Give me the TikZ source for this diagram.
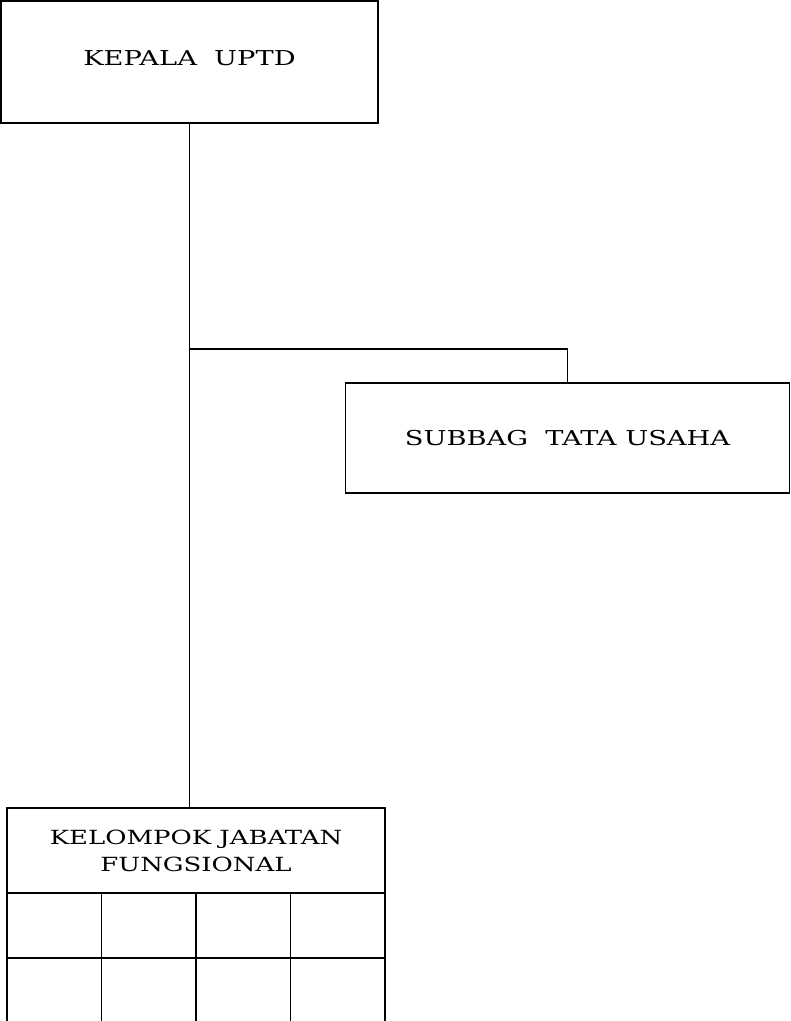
\documentclass[tikz,border=0pt]{standalone}
\usepackage{fontspec}
\setmainfont{DejaVu Serif}[FakeStretch=1.33]
\tikzset{
  line/.style={line width=1.9pt, draw=black},
  box/.style={line, rectangle, inner sep=0pt, align=center, font=\fontsize{20.5}{27.3}\selectfont},
  cell/.style={line, rectangle, inner sep=0pt, minimum width=94.5pt, minimum height=64.4pt}
}
\begin{document}
\begin{tikzpicture}[x=1pt,y=-1pt]
\useasboundingbox (0,0) rectangle (791,1021);
\clip (0,0) rectangle (791,1021);
\node[box, minimum width=377pt, minimum height=121.5pt] (kepala) at (189.5,62) {\raisebox{8pt}{KEPALA\ \ UPTD}};
\node[box, minimum width=444pt, minimum height=110pt] (subbag) at (567.5,438.3) {SUBBAG\ \ TATA USAHA};
\node[box, minimum width=378pt, minimum height=85.3pt, font=\fontsize{19.5}{27.3}\selectfont] (kelompok) at (196,850.7) {KELOMPOK JABATAN\\FUNGSIONAL};
\coordinate (j) at (189.5,349);
\foreach \c in {1,...,4} {
  \node[cell] (a\c) at ({7+94.5*(\c-0.5)},925.5) {};
  \node[cell] (b\c) at ({7+94.5*(\c-0.5)},989.9) {};
}
\draw[line] (kepala.south) -- (j);
\draw[line] (j) -- (kelompok.north -| j);
\draw[line] (j) -| (subbag.north);
\end{tikzpicture}
\end{document}
